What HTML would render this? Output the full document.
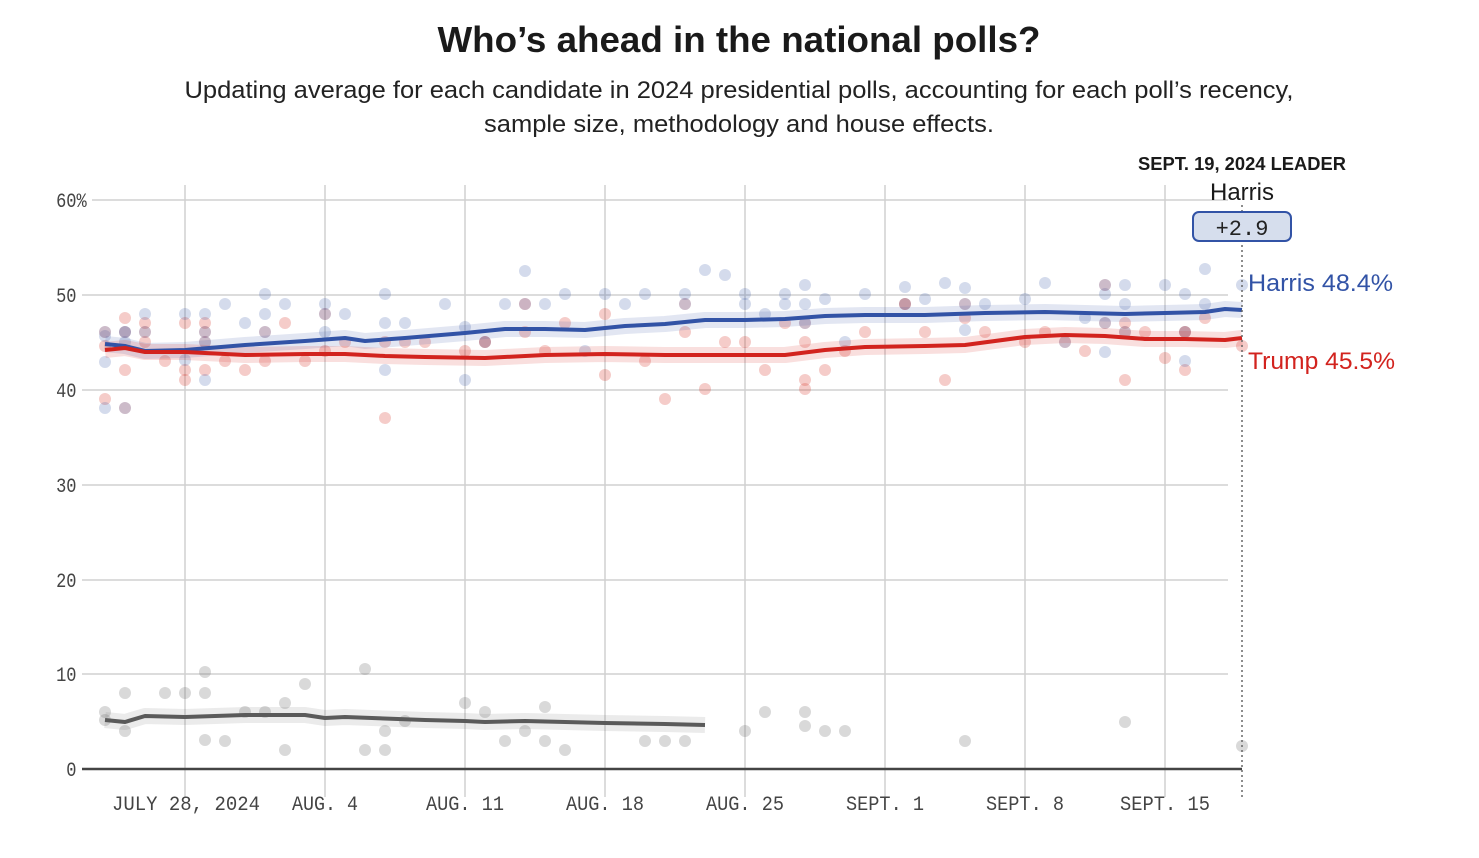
<!DOCTYPE html>
<html><head><meta charset="utf-8"><style>
body{margin:0;background:#fff;width:1479px;height:858px;overflow:hidden;font-family:"Liberation Sans",sans-serif}
</style></head><body>
<svg width="1479" height="858" xmlns="http://www.w3.org/2000/svg" style="position:absolute;left:0;top:0">
<text x="739" y="52" text-anchor="middle" font-family="Liberation Sans" font-weight="bold" font-size="36" fill="#1a1a1a" textLength="603" lengthAdjust="spacingAndGlyphs">Who’s ahead in the national polls?</text>
<text x="739" y="98" text-anchor="middle" font-family="Liberation Sans" font-size="24" fill="#222" textLength="1109" lengthAdjust="spacingAndGlyphs">Updating average for each candidate in 2024 presidential polls, accounting for each poll’s recency,</text>
<text x="739" y="132" text-anchor="middle" font-family="Liberation Sans" font-size="24" fill="#222" textLength="510" lengthAdjust="spacingAndGlyphs">sample size, methodology and house effects.</text>
<g stroke="#d0d0d0" stroke-width="1.5">
<line x1="92" x2="1228" y1="200" y2="200"/><line x1="82" x2="1228" y1="295" y2="295"/><line x1="82" x2="1228" y1="390" y2="390"/><line x1="82" x2="1228" y1="485" y2="485"/><line x1="82" x2="1228" y1="580" y2="580"/><line x1="82" x2="1228" y1="674" y2="674"/>
<line x1="185" x2="185" y1="185" y2="797"/><line x1="325" x2="325" y1="185" y2="797"/><line x1="465" x2="465" y1="185" y2="797"/><line x1="605" x2="605" y1="185" y2="797"/><line x1="745" x2="745" y1="185" y2="797"/><line x1="885" x2="885" y1="185" y2="797"/><line x1="1025" x2="1025" y1="185" y2="797"/><line x1="1165" x2="1165" y1="185" y2="797"/>
</g>
<line x1="82" x2="1242" y1="769" y2="769" stroke="#444" stroke-width="2.5"/>
<g font-family="Liberation Mono" font-size="20" fill="#444" transform="scale(0.85,1)">
<text x="66" y="207">60%</text><text x="66" y="302">50</text><text x="66" y="397">40</text><text x="66" y="492">30</text><text x="66" y="587">20</text><text x="66" y="681">10</text><text x="78" y="776">0</text>
</g>
<g font-family="Liberation Mono" font-size="20" fill="#444" text-anchor="middle">
<text x="186" y="810" textLength="148" lengthAdjust="spacingAndGlyphs">JULY 28, 2024</text>
<text x="325" y="810" textLength="66" lengthAdjust="spacingAndGlyphs">AUG. 4</text>
<text x="465" y="810" textLength="78" lengthAdjust="spacingAndGlyphs">AUG. 11</text>
<text x="605" y="810" textLength="78" lengthAdjust="spacingAndGlyphs">AUG. 18</text>
<text x="745" y="810" textLength="78" lengthAdjust="spacingAndGlyphs">AUG. 25</text>
<text x="885" y="810" textLength="78" lengthAdjust="spacingAndGlyphs">SEPT. 1</text>
<text x="1025" y="810" textLength="78" lengthAdjust="spacingAndGlyphs">SEPT. 8</text>
<text x="1165" y="810" textLength="90" lengthAdjust="spacingAndGlyphs">SEPT. 15</text>
</g>
<g id="dots"></g>
<g fill="none" stroke-linejoin="round">
<polyline id="hb" stroke="rgba(59,89,168,0.15)" stroke-width="16"/>
<polyline id="tb" stroke="rgba(215,40,35,0.15)" stroke-width="16"/>
<polyline id="ob" stroke="rgba(120,120,120,0.15)" stroke-width="16"/>
<polyline id="h" stroke="#3253a6" stroke-width="4"/>
<polyline id="t" stroke="#d2231e" stroke-width="4"/>
<polyline id="o" stroke="#5a5a5a" stroke-width="4"/>
</g>
<line x1="1242" x2="1242" y1="205" y2="800" stroke="#666" stroke-width="1.5" stroke-dasharray="2,3"/>
<text x="1242" y="170" text-anchor="middle" font-family="Liberation Sans" font-weight="bold" font-size="18" fill="#1a1a1a" textLength="208" lengthAdjust="spacingAndGlyphs">SEPT. 19, 2024 LEADER</text>
<text x="1242" y="200" text-anchor="middle" font-family="Liberation Sans" font-size="24" fill="#1a1a1a">Harris</text>
<rect x="1193" y="212" width="98" height="29" rx="6" fill="#d6deed" stroke="#3253a6" stroke-width="2"/>
<text x="1242" y="235" text-anchor="middle" font-family="Liberation Mono" font-size="22" fill="#222">+2.9</text>
<text x="1248" y="291" font-family="Liberation Sans" font-size="24" fill="#3253a6" textLength="145" lengthAdjust="spacingAndGlyphs">Harris 48.4%</text>
<text x="1248" y="369" font-family="Liberation Sans" font-size="24" fill="#d2231e" textLength="147" lengthAdjust="spacingAndGlyphs">Trump 45.5%</text>
</svg>
<script>
const H=[[105,344],[125,346],[145,351],[185,350],[245,345],[305,341],[345,338],[365,341],[405,338],[465,333],[505,329],[545,329],[585,330],[625,326],[665,324],[705,320],[745,320],[785,319],[825,316],[865,315],[925,315],[985,313],[1045,312],[1085,313],[1125,314],[1165,313],[1205,312],[1225,309],[1242,310]];
const T=[[105,350],[125,348],[145,352],[185,352],[245,355],[305,354],[345,354],[385,356],[425,357],[485,358],[545,355],[605,354],[665,355],[725,355],[785,355],[825,350],[865,347],[925,346],[965,345],[1025,337],[1065,335],[1105,336],[1145,339],[1185,339],[1225,340],[1242,338]];
const O=[[105,720],[125,722],[145,716],[185,717],[245,715],[305,715],[325,718],[345,717],[425,720],[465,721],[485,722],[525,721],[565,722],[605,723],[665,724],[705,725]];
const s=a=>a.map(p=>p.join(',')).join(' ');
for(const [id,a] of [['h',H],['t',T],['o',O]]){document.getElementById(id).setAttribute('points',s(a));document.getElementById(id+'b').setAttribute('points',s(a));}
const blue=[[105,408],[105,362],[105,336],[125,342],[125,332],[145,314],[185,314],[185,360],[205,314],[205,380],[225,304],[245,323],[265,294],[265,314],[285,304],[325,304],[325,332],[345,314],[385,294],[385,323],[385,370],[405,323],[445,304],[465,380],[465,327],[505,304],[525,271],[525,304],[545,304],[565,294],[585,351],[605,294],[625,304],[645,294],[685,294],[705,270],[725,275],[745,294],[745,304],[765,314],[785,294],[785,304],[805,285],[805,304],[825,299],[845,342],[865,294],[905,287],[925,299],[945,283],[965,288],[965,330],[985,304],[1025,299],[1045,283],[1085,318],[1105,294],[1105,352],[1125,285],[1125,304],[1165,285],[1185,294],[1185,361],[1205,269],[1205,304],[1242,285]];
const red=[[105,399],[105,346],[125,318],[125,370],[145,323],[145,342],[165,361],[185,323],[185,370],[185,380],[205,323],[205,370],[225,361],[245,370],[265,361],[285,323],[305,361],[325,351],[345,342],[385,418],[385,342],[405,342],[425,342],[465,351],[485,342],[525,304],[525,332],[545,351],[565,323],[605,314],[605,375],[645,361],[665,399],[685,332],[705,389],[725,342],[745,342],[765,370],[785,323],[805,342],[805,380],[805,389],[825,370],[845,351],[865,332],[905,304],[925,332],[945,380],[965,318],[985,332],[1025,342],[1045,332],[1085,351],[1125,380],[1125,323],[1145,332],[1165,358],[1185,332],[1185,370],[1205,318],[1242,346]];
const purp=[[105,332],[125,332],[125,408],[145,332],[205,332],[205,342],[265,332],[325,314],[485,342],[685,304],[805,323],[905,304],[965,304],[1065,342],[1105,285],[1105,323],[1125,332],[1185,332]];
const gray=[[105,712],[105,720],[125,693],[125,731],[165,693],[185,693],[205,672],[205,693],[205,740],[225,741],[245,712],[265,712],[285,750],[285,703],[305,684],[365,669],[365,750],[385,750],[385,731],[405,721],[465,703],[485,712],[505,741],[525,731],[545,707],[545,741],[565,750],[645,741],[665,741],[685,741],[745,731],[765,712],[805,712],[805,726],[825,731],[845,731],[965,741],[1125,722],[1242,746]];
let g='';
const add=(a,c)=>a.forEach(p=>g+=`<circle cx="${p[0]}" cy="${p[1]}" r="6" fill="${c}"/>`);
add(gray,'rgba(120,120,120,0.28)');add(red,'rgba(215,50,40,0.25)');add(blue,'rgba(59,89,168,0.22)');add(purp,'rgba(110,60,100,0.35)');
document.getElementById('dots').innerHTML=g;
</script>
</body></html>
